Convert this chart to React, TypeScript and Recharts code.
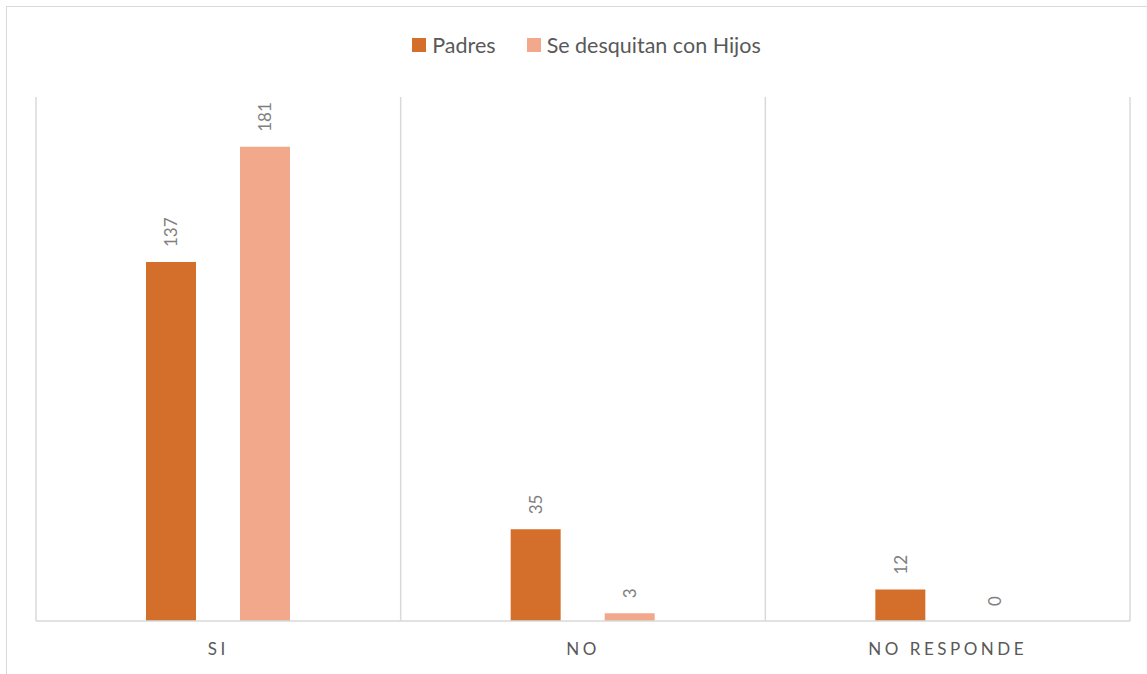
import React from "react";
import { BarChart, Bar, XAxis, YAxis, CartesianGrid, Legend, LabelList } from "recharts";

const categories = ["SI", "NO", "NO RESPONDE"];
const padres = [137, 35, 12];
const hijos = [181, 3, 0];
const seriesNames = ["Padres", "Se desquitan con Hijos"];
const colors = ["#D36F2B", "#F1A88B"];

const data = categories.map((c, i) => ({ cat: c, padres: padres[i], hijos: hijos[i] }));

const FONT = "Lato, 'Open Sans', sans-serif";

const RotLabel = (props: any) => {
  const { x, y, width, height, value } = props;
  const top = Math.min(Number(y), Number(y) + Number(height || 0));
  const cx = Number(x) + Number(width) / 2;
  const sy = top - 15;
  return (
    <text
      x={cx}
      y={sy}
      transform={`rotate(-90, ${cx}, ${sy})`}
      textAnchor="start"
      dominantBaseline="central"
      fill="#7F7F7F"
      fontSize={17}
      fontFamily={FONT}
    >
      {value}
    </text>
  );
};

const Tick = (props: any) => {
  const { x, y, payload } = props;
  return (
    <text
      x={Number(x)}
      y={Number(y) + 26}
      textAnchor="middle"
      fill="#595959"
      fontSize={17}
      letterSpacing={3.5}
      fontFamily={FONT}
    >
      {payload.value}
    </text>
  );
};

const LegendContent = () => (
  <div
    style={{
      display: "flex",
      justifyContent: "center",
      alignItems: "center",
      fontFamily: FONT,
      fontSize: 21.5,
      color: "#595959",
      paddingLeft: 26,
    }}
  >
    {seriesNames.map((n, i) => (
      <div key={n} style={{ display: "flex", alignItems: "center", marginRight: i === 0 ? 31 : 0 }}>
        <span style={{ width: 14, height: 14, background: colors[i], display: "inline-block", marginRight: 6 }} />
        <span>{n}</span>
      </div>
    ))}
  </div>
);

export default function App() {
  return (
    <div style={{ position: "absolute", left: 0, top: 0, width: 1147, height: 674, overflow: "hidden", background: "#fff" }}>
      <div
        style={{
          position: "absolute",
          left: 6,
          top: 6,
          width: 1170,
          height: 720,
          border: "1.5px solid #D9D9D9",
        }}
      />
      <div style={{ position: "absolute", left: 0, top: 0 }}>
        <BarChart
          width={1147}
          height={674}
          data={data}
          margin={{ top: 97, left: 36, right: 17, bottom: 23 }}
          barSize={50}
          barGap={44}
        >
          <CartesianGrid
            horizontal={false}
            stroke="#D9D9D9"
            strokeWidth={1.5}
            verticalCoordinatesGenerator={({ offset }: any) =>
              [0, 1, 2, 3].map((i) => offset.left + (i * offset.width) / categories.length)
            }
          />
          <XAxis
            dataKey="cat"
            height={30}
            tickLine={false}
            axisLine={{ stroke: "#D9D9D9", strokeWidth: 1.5 }}
            tick={<Tick />}
            interval={0}
          />
          <YAxis hide domain={[0, 200]} />
          <Legend
            verticalAlign="middle"
            align="center"
            wrapperStyle={{ top: 32, left: 0, width: 1147 }}
            content={<LegendContent />}
          />
          <Bar dataKey="padres" name={seriesNames[0]} fill={colors[0]} isAnimationActive={false} minPointSize={0.01}>
            <LabelList dataKey="padres" content={<RotLabel />} />
          </Bar>
          <Bar dataKey="hijos" name={seriesNames[1]} fill={colors[1]} isAnimationActive={false} minPointSize={0.01}>
            <LabelList dataKey="hijos" content={<RotLabel />} />
          </Bar>
        </BarChart>
      </div>
    </div>
  );
}
